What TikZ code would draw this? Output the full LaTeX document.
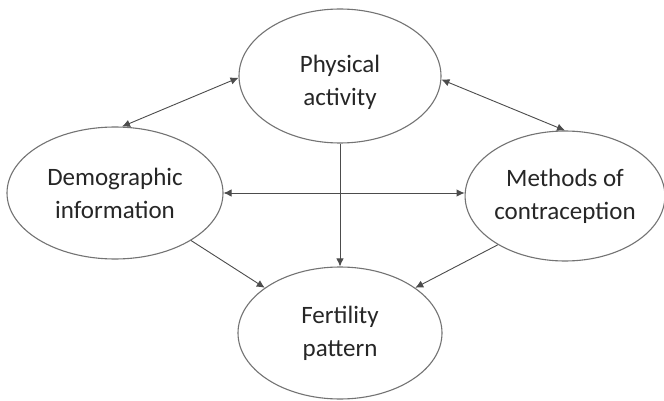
\documentclass[tikz,border=0pt]{standalone}
\usepackage{fontspec}
\setmainfont{Carlito}
\usetikzlibrary{shapes.geometric,arrows.meta}
\tikzset{
  txt/.style={text=black!85, font=\fontsize{25}{33}\selectfont, align=center},
  oval/.style={ellipse, draw=black!55, line width=1.1pt, inner sep=0pt, txt},
  conn/.style={draw=black!70, line width=0.9pt, -{Latex[length=8pt,width=7.5pt]}},
  biconn/.style={conn, {Latex[length=8pt,width=7.5pt]}-{Latex[length=8pt,width=7.5pt]}}
}
\begin{document}
\begin{tikzpicture}[x=1pt,y=-1pt]
\useasboundingbox[fill=white] (0,0) rectangle (664,401);
\node[oval, minimum width=202pt, minimum height=134pt] (phys) at (340,76) {};
\node[txt] (physt) at (340,82) {Physical\\activity};
\node[oval, minimum width=216pt, minimum height=132pt] (demo) at (115,193) {Demographic\\information};
\node[oval, minimum width=194pt, minimum height=130pt] (meth) at (565,196) {Methods of\\contraception};
\node[oval, minimum width=204pt, minimum height=132pt] (fert) at (340,333) {Fertility\\pattern};
\draw[biconn] (phys.181.6) -- (demo.84);
\draw[biconn] (phys.-2) -- (meth.90);
\draw[biconn] (demo.east) -- (demo.east -| meth.west);
\draw[conn] (phys.south) -- (fert.north);
\draw[conn] (demo.-32) -- (fert.149.4);
\draw[conn] (meth.216.6) -- (fert.31.5);
\end{tikzpicture}
\end{document}
